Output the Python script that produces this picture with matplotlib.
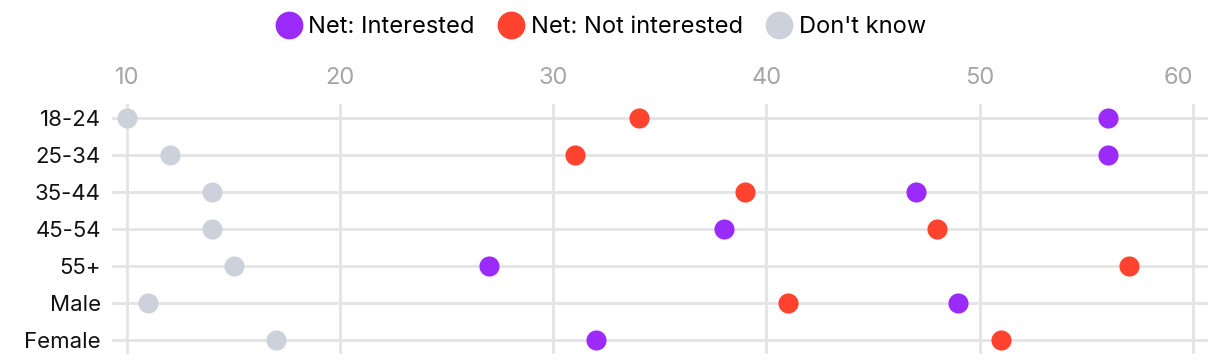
import matplotlib.pyplot as plt
from matplotlib.lines import Line2D

plt.rcParams['font.family'] = ['Inter', 'DejaVu Sans']

groups = ["18-24", "25-34", "35-44", "45-54", "55+", "Male", "Female"]
interested = [56, 56, 47, 38, 27, 49, 32]
not_interested = [34, 31, 39, 48, 57, 41, 51]
dont_know = [10, 12, 14, 14, 15, 11, 17]
xticks = [10, 20, 30, 40, 50, 60]

series = [
    ("Net: Interested", interested, "#9B2BFA"),
    ("Net: Not interested", not_interested, "#FF432E"),
    ("Don't know", dont_know, "#CDD1DC"),
]

fig = plt.figure(figsize=(12.2, 3.64), dpi=100)
ax = fig.add_axes([0.0918, 0.0275, 0.8982, 0.6865])

ypos = list(range(len(groups)))
for name, vals, col in series[::-1]:
    ax.scatter(vals, ypos, s=210, color=col, zorder=3, linewidths=0)

ax.set_xlim(9.3, 60.7)
ax.set_ylim(len(groups) - 1 + 0.38, -0.38)
ax.set_xticks(xticks)
ax.set_yticks(ypos)
ax.set_yticklabels(groups)
ax.xaxis.tick_top()
ax.tick_params(axis='x', length=0, pad=11, labelsize=17, labelcolor="#A6A6A6")
ax.tick_params(axis='y', length=0, pad=8, labelsize=16, labelcolor="#111111")
ax.get_xticklabels()[-1].set_horizontalalignment('right')

for s in ax.spines.values():
    s.set_visible(False)

for v in xticks:
    ax.axvline(v, color="#E4E4E4", lw=2, zorder=1)
for y in ypos:
    ax.axhline(y, color="#E4E4E4", lw=2, zorder=1)

handles = [Line2D([], [], marker='o', ls='', markersize=20, markerfacecolor=c,
                  markeredgewidth=0, label=n) for n, _, c in series]
fig.legend(handles=handles, loc='center', bbox_to_anchor=(0.492, 0.926), ncol=3,
           frameon=False, fontsize=17, handletextpad=0.25, columnspacing=0.93,
           handlelength=1.19)

fig.savefig("out.png", dpi=100)
